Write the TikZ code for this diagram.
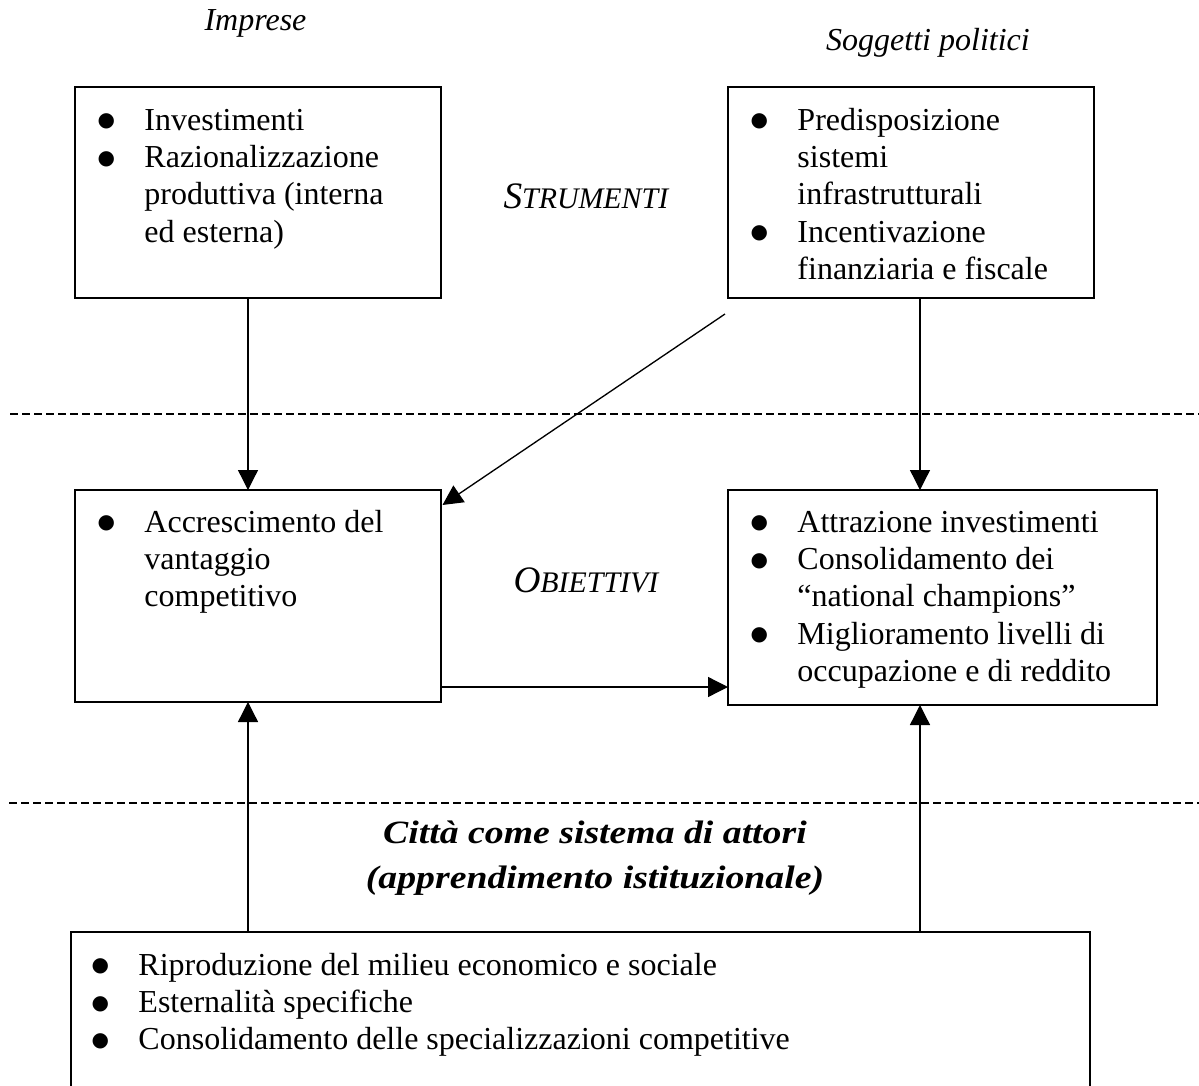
\documentclass[tikz,border=0pt]{standalone}
\usepackage{fontspec}
\setmainfont{Liberation Serif}
\newfontfamily\headfont[FakeStretch=1.16]{Liberation Serif}
\newfontfamily\dotfont{DejaVu Sans}
\usetikzlibrary{arrows.meta,calc}

% round bullet with a fixed hanging column
\newcommand{\bitem}{\makebox[17.6pt][l]{\raisebox{1.2pt}{\dotfont\fontsize{7.5}{9}\selectfont ●}}}
% italic small capitals: first letter full size, the rest smaller
\newcommand{\smcap}[2]{#1{\fontsize{11.2}{14}\selectfont #2}}

\begin{document}
\begin{tikzpicture}[x=0.375pt,y=-0.375pt,
  box/.style={draw, line width=0.75pt, inner sep=0pt, outer sep=0pt, anchor=north west},
  list/.style={anchor=base west, inner sep=0pt, font=\fontsize{12}{14}\selectfont},
  arr/.style={line width=0.5pt, -{Triangle[length=7.5pt,width=7.5pt]}},
  sep/.style={line width=0.5pt, dash pattern=on 3pt off 1.5pt},
  actor/.style={inner sep=0pt, anchor=base, font=\fontsize{12}{14}\selectfont\itshape},
  level/.style={inner sep=0pt, anchor=base west, font=\fontsize{14}{16}\selectfont\itshape}]

\useasboundingbox (0,0) rectangle (1199,1086);
\clip (0,0) rectangle (1199,1086);
\fill[white] (0,0) rectangle (1199,1086);

% actors
\node[actor] (imprese) at (255.5,30) {Imprese};
\node[actor] (soggetti) at (928,50) {Soggetti politici};

% level labels
\node[level] (strumenti) at (503,208) {\smcap{S}{TRUMENTI}};
\node[level] (obiettivi) at (513,592) {\smcap{O}{BIETTIVI}};

% boxes
\node[box, minimum width=137.25pt, minimum height=79.125pt] (imp) at (75,87) {};
\node[box, minimum width=137.25pt, minimum height=79.125pt] (pol) at (728,87) {};
\node[box, minimum width=137.25pt, minimum height=79.5pt] (vant) at (75,490) {};
\node[box, minimum width=160.875pt, minimum height=80.625pt] (obj) at (728,490) {};
\node[box, minimum width=382.125pt, minimum height=75pt] (citta) at (71,932) {};

% box contents
\node[list] (impT) at ($(imp.north west)+(22,43)$) {\begin{tabular}[t]{@{}l@{}l@{}}
\bitem & Investimenti\\
\bitem & Razionalizzazione\\
 & produttiva (interna\\
 & ed esterna)
\end{tabular}};
\node[list] (polT) at ($(pol.north west)+(22,43)$) {\begin{tabular}[t]{@{}l@{}l@{}}
\bitem & Predisposizione\\
 & sistemi\\
 & infrastrutturali\\
\bitem & Incentivazione\\
 & finanziaria e fiscale
\end{tabular}};
\node[list] (vantT) at ($(vant.north west)+(22,42)$) {\begin{tabular}[t]{@{}l@{}l@{}}
\bitem & Accrescimento del\\
 & vantaggio\\
 & competitivo
\end{tabular}};
\node[list] (objT) at ($(obj.north west)+(22,42)$) {\begin{tabular}[t]{@{}l@{}l@{}}
\bitem & Attrazione investimenti\\
\bitem & Consolidamento dei\\
 & “national champions”\\
\bitem & Miglioramento livelli di\\
 & occupazione e di reddito
\end{tabular}};
\node[list] (cittaT) at ($(citta.north west)+(20,43)$) {\begin{tabular}[t]{@{}l@{}l@{}}
\bitem & Riproduzione del milieu economico e sociale\\
\bitem & Esternalità specifiche\\
\bitem & Consolidamento delle specializzazioni competitive
\end{tabular}};

% heading of the lower level
\node[inner sep=0pt, anchor=base, font=\headfont\bfseries\itshape\fontsize{12.2}{16.9}\selectfont] (attori) at (595,843)
  {\begin{tabular}[t]{@{}c@{}}Città come sistema di attori\\(apprendimento istituzionale)\end{tabular}};

% separators
\coordinate (s1a) at (10,414);
\coordinate (s1b) at (1199,414);
\coordinate (s2a) at (9,803);
\coordinate (s2b) at (1199,803);
\draw[sep] (s1a) -- (s1b);
\draw[sep] (s2a) -- (s2b);

% connector columns
\coordinate (xl) at (248,0);
\coordinate (xr) at (920,0);
\coordinate (yh) at (0,687);
\coordinate (dstart) at (725,314);

\draw[arr] (imp.south -| xl) -- (vant.north -| xl);
\draw[arr] (pol.south -| xr) -- (obj.north -| xr);
\draw[arr] (dstart) -- ($(vant.north east)+(1.5,15)$);
\draw[arr] (vant.east |- yh) -- (obj.west |- yh);
\draw[arr] (citta.north -| xl) -- (vant.south -| xl);
\draw[arr] (citta.north -| xr) -- (obj.south -| xr);
\end{tikzpicture}
\end{document}
